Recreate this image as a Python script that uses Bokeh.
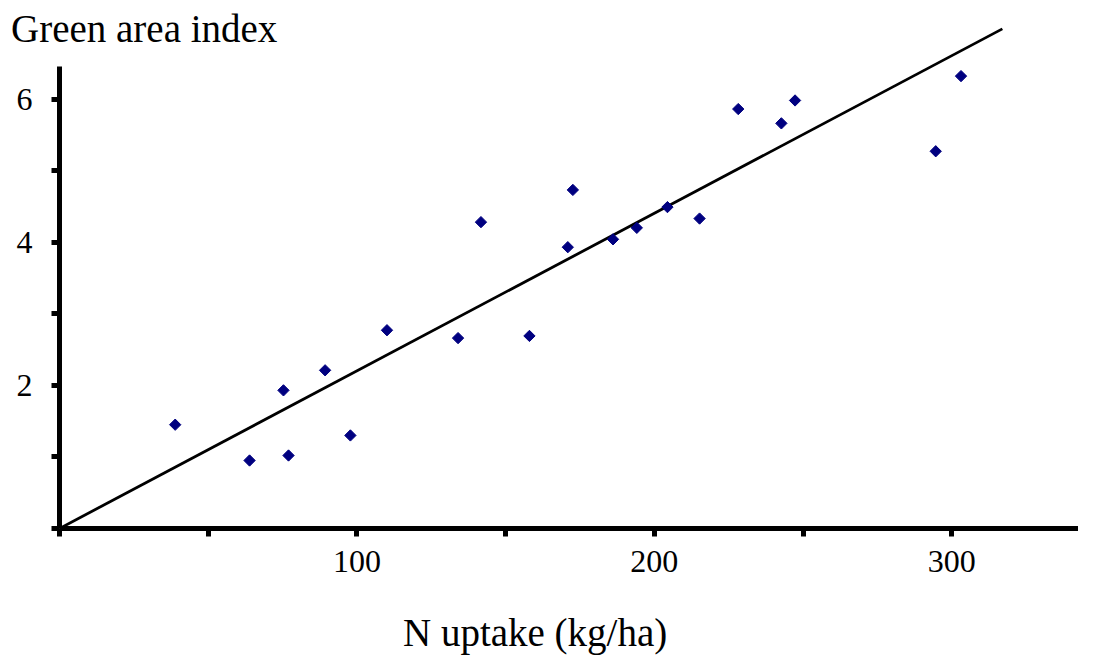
import numpy as np
from bokeh.plotting import figure
from bokeh.models import Range1d, FixedTicker, Title
from bokeh.embed import file_html
from bokeh.resources import INLINE

# Data
n_uptake = [38.9, 63.9, 75.3, 77.0, 89.3, 97.8, 110.1, 134.0, 141.7, 158.0, 170.9,
            172.6, 186.1, 194.1, 204.4, 215.2, 228.2, 242.7, 247.3, 294.6, 303.1]
gai = [1.45, 0.95, 1.93, 1.02, 2.21, 1.30, 2.77, 2.66, 4.28, 2.69, 3.93,
       4.73, 4.04, 4.20, 4.49, 4.33, 5.86, 5.66, 5.98, 5.27, 6.32]
fit_x = [0, 317]
fit_y = [0, 6.98]
x_major = [100, 200, 300]
x_minor = [0, 50, 150, 250]
y_major = [2, 4, 6]
y_minor = [0, 1, 3, 5]

FONT = "Liberation Serif"

p = figure(width=1078, height=655, output_backend="svg", toolbar_location=None,
           x_range=Range1d(0, 342.6), y_range=Range1d(0, 7.097),
           min_border_left=59, min_border_right=0, min_border_top=20,
           min_border_bottom=127)
p.grid.visible = False
p.outline_line_color = None
p.background_fill_color = "white"
p.border_fill_color = "white"

p.line(fit_x, fit_y, line_color="black", line_width=2.8)
p.scatter(n_uptake, gai, marker="square", angle=np.pi / 4, size=8,
          fill_color="#000080", line_color="#000080")

for ax in (p.xaxis[0], p.yaxis[0]):
    ax.axis_line_width = 5
    ax.axis_line_color = "black"
    ax.major_tick_line_width = 5
    ax.minor_tick_line_width = 5
    ax.major_tick_line_color = "black"
    ax.minor_tick_line_color = "black"
    ax.major_tick_out = 8
    ax.major_tick_in = 0
    ax.minor_tick_out = 8
    ax.minor_tick_in = 0
    ax.major_label_text_font = FONT
    ax.major_label_text_font_size = "32px"
    ax.major_label_text_color = "black"

p.xaxis.ticker = FixedTicker(ticks=x_major, minor_ticks=x_minor)
p.yaxis.ticker = FixedTicker(ticks=y_major, minor_ticks=y_minor)
p.xaxis.major_label_standoff = 14
p.yaxis.major_label_standoff = 19
p.yaxis.bounds = (0, 6.46)
p.yaxis.major_label_orientation = "horizontal"

# Chart title, top-left
p.title.text = "Green area index"
p.title.text_font = FONT
p.title.text_font_size = "39px"
p.title.text_font_style = "normal"
p.title.text_color = "black"
p.title.align = "left"
p.title.offset = -48.5
p.title.vertical_align = "bottom"
p.title.standoff = -58

# X axis label
xlab = Title(text="N uptake (kg/ha)", text_font=FONT, text_font_size="39px",
             text_font_style="normal", text_color="black", align="left",
             offset=343.5, vertical_align="bottom", standoff=0,
             padding=dict(left=0, right=0, top=34, bottom=0))
p.add_layout(xlab, "below")

open("out.html", "w").write(file_html(p, INLINE))
